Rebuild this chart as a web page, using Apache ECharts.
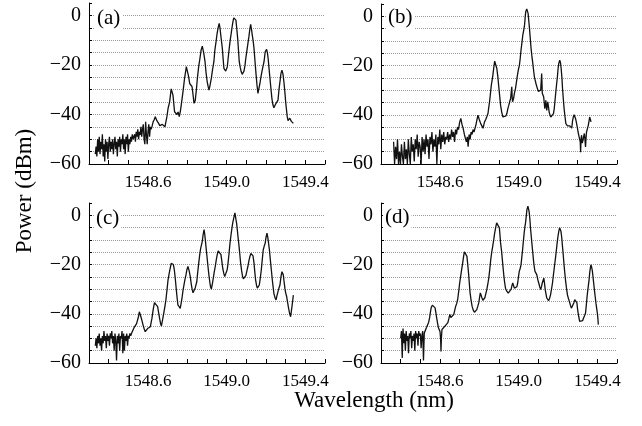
<!DOCTYPE html>
<html>
<head>
<meta charset="utf-8">
<script src="https://cdn.jsdelivr.net/npm/echarts@6/dist/echarts.min.js"></script>
<style>
html, body { margin: 0; padding: 0; background: #fff; }
#chart { width: 642px; height: 426px; }
</style>
</head>
<body>
<div id="chart"></div>
<script>
// panel tags and tick labels
const panelLabels = ['(a)', '(b)', '(c)', '(d)'];
const xTickLabels = ['1548.6', '1549.0', '1549.4'];
const yTickLabels = [-60, -40, -20, 0];

// spectra: [wavelength (nm), power (dBm)]
const spectrumA = [
  [1548.332,-56],[1548.336,-53],[1548.340,-57],[1548.344,-50],[1548.348,-55],[1548.352,-49],[1548.356,-56],[1548.360,-51],
  [1548.364,-54],[1548.368,-48],[1548.372,-57],[1548.376,-52],[1548.380,-59],[1548.384,-50],[1548.388,-55],[1548.392,-51],
  [1548.396,-58],[1548.400,-52],[1548.404,-49],[1548.408,-55],[1548.412,-51],[1548.416,-54],[1548.420,-50],[1548.424,-56],
  [1548.428,-52],[1548.432,-49],[1548.436,-54],[1548.440,-51],[1548.444,-57],[1548.448,-50],[1548.452,-53],[1548.456,-49],
  [1548.460,-55],[1548.464,-50],[1548.468,-52],[1548.472,-48],[1548.476,-54],[1548.480,-50],[1548.484,-56],[1548.488,-49],
  [1548.492,-52],[1548.496,-48],[1548.500,-55],[1548.504,-50],[1548.508,-52],[1548.512,-49],[1548.516,-51],[1548.520,-48],
  [1548.524,-50],[1548.528,-50.4],[1548.532,-48],[1548.536,-51],[1548.540,-47],[1548.544,-49],[1548.548,-46],[1548.552,-50],
  [1548.556,-47],[1548.560,-48.3],[1548.564,-45],[1548.568,-49],[1548.572,-46],[1548.576,-44],[1548.580,-50],[1548.584,-52],
  [1548.588,-43],[1548.592,-48],[1548.596,-52],[1548.600,-47],[1548.604,-44],[1548.608,-49],[1548.612,-45],[1548.616,-46],
  [1548.620,-45],[1548.626,-43],[1548.632,-42],[1548.637,-40.9],[1548.645,-42.5],[1548.654,-43.6],[1548.660,-44.5],
  [1548.666,-45],[1548.673,-44],[1548.680,-43.6],[1548.686,-45],[1548.690,-44.5],[1548.696,-41],[1548.702,-37.6],
  [1548.710,-34.9],[1548.718,-29.7],[1548.723,-30.5],[1548.727,-32.2],[1548.731,-35.5],[1548.735,-38.9],[1548.741,-39.5],
  [1548.747,-40],[1548.753,-39],[1548.759,-40.9],[1548.764,-39],[1548.769,-36.2],[1548.778,-30.8],[1548.786,-25.4],
  [1548.795,-20.7],[1548.800,-21.5],[1548.806,-24.5],[1548.812,-27.5],[1548.818,-27.8],[1548.824,-28.8],[1548.829,-32],
  [1548.834,-35.5],[1548.840,-34.5],[1548.846,-30],[1548.851,-25.4],[1548.858,-20.5],[1548.864,-17.4],[1548.870,-14],
  [1548.876,-12.4],[1548.883,-15],[1548.890,-18.7],[1548.895,-23],[1548.901,-26.8],[1548.906,-28.8],[1548.910,-30.2],
  [1548.916,-28],[1548.922,-25.4],[1548.928,-22],[1548.935,-18.7],[1548.940,-14],[1548.946,-10.6],[1548.951,-7.5],
  [1548.956,-5.2],[1548.962,-3.2],[1548.966,-5],[1548.970,-7.9],[1548.978,-13.3],[1548.982,-17.5],[1548.986,-21.4],
  [1548.990,-22.2],[1548.995,-22.5],[1548.999,-21.8],[1549.003,-20.8],[1549.008,-17],[1549.013,-13.3],[1549.018,-10],
  [1549.023,-7.3],[1549.028,-4.5],[1549.032,-2.5],[1549.036,-1],[1549.039,-0.3],[1549.043,-0.8],[1549.047,-1.9],
  [1549.051,-5],[1549.056,-9.3],[1549.060,-14],[1549.064,-18.7],[1549.069,-21],[1549.074,-22.8],[1549.079,-23.8],
  [1549.084,-24.4],[1549.088,-22.5],[1549.093,-20.3],[1549.097,-17.5],[1549.102,-14.7],[1549.113,-8.6],[1549.118,-5.5],
  [1549.122,-3.6],[1549.126,-5.5],[1549.130,-7.9],[1549.135,-10.5],[1549.139,-13.3],[1549.144,-18.5],[1549.149,-23.4],
  [1549.154,-28],[1549.159,-31.5],[1549.164,-29.5],[1549.169,-27.5],[1549.174,-25],[1549.179,-22.8],[1549.185,-20.5],
  [1549.190,-18.7],[1549.196,-14.7],[1549.203,-13.7],[1549.207,-15],[1549.211,-17.4],[1549.215,-21],[1549.220,-25.4],
  [1549.225,-29.5],[1549.230,-33.5],[1549.235,-36],[1549.240,-37.3],[1549.245,-36.5],[1549.251,-35.5],[1549.256,-34.8],
  [1549.261,-34.2],[1549.266,-30],[1549.271,-26.8],[1549.276,-23.5],[1549.281,-22.1],[1549.286,-23.5],[1549.291,-26.8],
  [1549.296,-31],[1549.300,-34.9],[1549.304,-38],[1549.308,-40.9],[1549.312,-42.5],[1549.317,-42.2],[1549.321,-41.5],
  [1549.325,-41.8],[1549.329,-42.8],[1549.334,-43.2],[1549.339,-43.6]
];

const spectrumB = [
  [1548.364,-51],[1548.369,-60],[1548.374,-53],[1548.379,-58],[1548.384,-50],[1548.389,-60],[1548.394,-55],[1548.399,-60],
  [1548.404,-52],[1548.409,-57],[1548.414,-60],[1548.419,-51],[1548.424,-58],[1548.429,-54],[1548.434,-60],[1548.439,-50],
  [1548.444,-56],[1548.449,-60],[1548.454,-49],[1548.459,-55],[1548.464,-52],[1548.469,-59],[1548.474,-50],[1548.479,-54],
  [1548.484,-48],[1548.489,-57],[1548.494,-51],[1548.499,-53],[1548.504,-60],[1548.509,-49],[1548.514,-55],[1548.519,-50],
  [1548.524,-56],[1548.529,-48],[1548.534,-53],[1548.539,-50],[1548.544,-58],[1548.549,-49],[1548.554,-52],[1548.559,-47],
  [1548.564,-55],[1548.569,-50],[1548.574,-53],[1548.579,-48],[1548.584,-60],[1548.589,-49],[1548.594,-52],[1548.599,-46],
  [1548.604,-54],[1548.609,-48],[1548.614,-51],[1548.619,-47],[1548.624,-52],[1548.629,-49],[1548.634,-50],[1548.639,-47],
  [1548.644,-51],[1548.649,-48],[1548.654,-50],[1548.659,-46],[1548.664,-49],[1548.669,-47],[1548.674,-51],[1548.679,-46],
  [1548.684,-48],[1548.689,-45],[1548.694,-46],[1548.700,-43],[1548.706,-41.5],[1548.712,-44],[1548.718,-45.6],
  [1548.724,-48],[1548.729,-47.6],[1548.734,-51],[1548.739,-49],[1548.743,-53],[1548.748,-48],[1548.753,-50],
  [1548.758,-47],[1548.763,-48],[1548.768,-46],[1548.773,-47],[1548.777,-46.3],[1548.783,-44],[1548.788,-42],
  [1548.793,-40.2],[1548.800,-42],[1548.807,-43.6],[1548.813,-44.5],[1548.819,-45.5],[1548.826,-43],[1548.832,-42],
  [1548.838,-40.8],[1548.844,-39.5],[1548.848,-37],[1548.852,-34.7],[1548.857,-31],[1548.861,-27.9],[1548.865,-26],
  [1548.869,-23.8],[1548.874,-20.5],[1548.878,-18.2],[1548.883,-17.4],[1548.886,-19],[1548.889,-21.2],[1548.894,-24.5],
  [1548.898,-27.9],[1548.903,-32],[1548.908,-36.1],[1548.914,-39],[1548.920,-40.9],[1548.925,-41],[1548.930,-40.9],
  [1548.935,-40.5],[1548.940,-39.5],[1548.945,-37.5],[1548.950,-36.1],[1548.955,-34.5],[1548.959,-33.4],[1548.962,-31],
  [1548.965,-28.6],[1548.967,-33],[1548.969,-34.7],[1548.974,-33.4],[1548.979,-31],[1548.984,-29.3],[1548.989,-26.5],
  [1548.994,-23.8],[1548.999,-21.5],[1549.004,-19.8],[1549.008,-17],[1549.012,-13.7],[1549.017,-10.5],[1549.021,-7.6],
  [1549.026,-5.5],[1549.030,-3.5],[1549.033,-0.5],[1549.036,1.9],[1549.041,3],[1549.045,2.5],[1549.048,1.2],
  [1549.051,-1.5],[1549.055,-4.9],[1549.059,-9],[1549.063,-13],[1549.067,-16],[1549.071,-18.5],[1549.076,-22],
  [1549.080,-24.6],[1549.084,-26],[1549.088,-27.3],[1549.092,-28.5],[1549.096,-29.3],[1549.100,-30.5],[1549.105,-31],
  [1549.109,-30.5],[1549.112,-30],[1549.115,-26],[1549.117,-23.2],[1549.119,-28],[1549.120,-31.3],[1549.124,-32],
  [1549.127,-32.7],[1549.130,-35],[1549.133,-37.5],[1549.136,-36],[1549.138,-34.1],[1549.141,-36.5],[1549.143,-38.2],
  [1549.146,-36],[1549.148,-34.7],[1549.152,-37],[1549.155,-38.9],[1549.159,-40],[1549.163,-40.9],[1549.168,-41.2],
  [1549.172,-40.9],[1549.177,-39.5],[1549.181,-37.5],[1549.185,-34],[1549.189,-30.7],[1549.193,-27.5],[1549.197,-24.6],
  [1549.200,-21.5],[1549.204,-19.1],[1549.209,-17.8],[1549.213,-19],[1549.216,-21.2],[1549.220,-25],[1549.223,-29.3],
  [1549.227,-33.5],[1549.231,-37.5],[1549.236,-41],[1549.240,-43.6],[1549.244,-44],[1549.248,-44.5],[1549.252,-44],
  [1549.256,-44.8],[1549.260,-44.5],[1549.265,-45],[1549.270,-45.4],[1549.274,-42.5],[1549.278,-40.9],[1549.282,-40],
  [1549.285,-40.3],[1549.289,-41.5],[1549.293,-42.9],[1549.298,-45],[1549.302,-47],[1549.306,-48.5],[1549.310,-49.1],
  [1549.313,-51],[1549.315,-55.2],[1549.317,-50],[1549.320,-48.3],[1549.323,-51.5],[1549.327,-50.4],[1549.330,-49],
  [1549.334,-47.6],[1549.337,-50],[1549.340,-53.1],[1549.343,-49],[1549.345,-47],[1549.350,-45.5],[1549.354,-44.3],
  [1549.358,-42.5],[1549.361,-40.9],[1549.365,-42],[1549.368,-42.9]
];

const spectrumC = [
  [1548.332,-53],[1548.336,-50],[1548.340,-54],[1548.344,-49],[1548.348,-52],[1548.352,-48],[1548.356,-53],[1548.360,-50],
  [1548.364,-55],[1548.368,-49],[1548.372,-52],[1548.376,-47],[1548.380,-51],[1548.384,-49],[1548.388,-54],[1548.392,-48],
  [1548.396,-51],[1548.400,-49],[1548.404,-53],[1548.408,-48],[1548.412,-50],[1548.416,-47],[1548.420,-52],[1548.424,-49],
  [1548.428,-55],[1548.432,-48],[1548.436,-51],[1548.440,-59],[1548.444,-49],[1548.448,-52],[1548.452,-48],[1548.456,-55],
  [1548.460,-49],[1548.464,-50],[1548.468,-47],[1548.472,-56],[1548.476,-48],[1548.480,-55],[1548.484,-49],[1548.488,-51],
  [1548.492,-48],[1548.496,-53],[1548.500,-49],[1548.504,-50],[1548.508,-48],[1548.512,-49],[1548.516,-48],[1548.520,-48],
  [1548.524,-47.5],[1548.530,-45.5],[1548.536,-45],[1548.542,-44],[1548.548,-43.3],[1548.552,-41],[1548.556,-39.2],
  [1548.560,-40],[1548.564,-41.2],[1548.570,-43],[1548.575,-44.6],[1548.580,-46],[1548.586,-47.3],[1548.592,-46.5],
  [1548.598,-46],[1548.605,-45.8],[1548.612,-45.3],[1548.616,-43.5],[1548.620,-41.9],[1548.625,-39],[1548.629,-37.1],
  [1548.633,-35.5],[1548.637,-35.1],[1548.643,-36],[1548.649,-37.1],[1548.654,-39.5],[1548.659,-41.9],[1548.664,-44],
  [1548.668,-45],[1548.674,-42.5],[1548.680,-39.8],[1548.686,-37],[1548.691,-34.4],[1548.697,-30],[1548.702,-26.2],
  [1548.708,-23.5],[1548.713,-21.5],[1548.718,-19.5],[1548.724,-18.8],[1548.729,-20],[1548.734,-22.2],[1548.739,-26],
  [1548.744,-30.3],[1548.748,-33.5],[1548.752,-36.4],[1548.758,-37],[1548.764,-37.8],[1548.769,-35.5],[1548.774,-33],
  [1548.778,-30.5],[1548.783,-28.3],[1548.788,-26],[1548.793,-24.2],[1548.798,-22],[1548.803,-20.8],[1548.809,-22.5],
  [1548.815,-24.9],[1548.820,-28],[1548.825,-30.3],[1548.829,-31.5],[1548.834,-31],[1548.840,-29.5],[1548.848,-27],
  [1548.853,-23],[1548.858,-19.4],[1548.863,-16],[1548.868,-13.3],[1548.872,-12],[1548.876,-10.6],[1548.880,-8],
  [1548.885,-5.8],[1548.889,-8],[1548.893,-11.3],[1548.899,-16],[1548.905,-20.8],[1548.910,-24.5],[1548.915,-27.6],
  [1548.918,-29],[1548.922,-30],[1548.927,-28],[1548.932,-25.5],[1548.937,-23],[1548.942,-20.8],[1548.947,-18.2],
  [1548.952,-16],[1548.957,-14.5],[1548.962,-13.9],[1548.967,-14.5],[1548.971,-16],[1548.976,-19],[1548.980,-21.5],
  [1548.985,-23.5],[1548.990,-24.9],[1548.994,-25],[1548.998,-24.6],[1549.003,-22],[1549.007,-19.4],[1549.012,-15.5],
  [1549.017,-11.3],[1549.022,-8],[1549.027,-5.1],[1549.031,-3],[1549.036,-1.1],[1549.039,0],[1549.042,1],
  [1549.045,-0.5],[1549.047,-1.6],[1549.051,-3.5],[1549.054,-5.8],[1549.058,-9],[1549.063,-12.6],[1549.067,-16],
  [1549.071,-19.4],[1549.076,-22.5],[1549.081,-24.9],[1549.085,-25.8],[1549.088,-26.2],[1549.093,-25.5],[1549.098,-24.4],
  [1549.103,-22.5],[1549.108,-20.8],[1549.113,-18.5],[1549.118,-16.8],[1549.123,-15.5],[1549.129,-15],[1549.134,-16.5],
  [1549.139,-19.4],[1549.143,-23],[1549.147,-26.2],[1549.152,-28.5],[1549.156,-29.6],[1549.161,-29.2],[1549.166,-28.3],
  [1549.171,-25.5],[1549.176,-22.2],[1549.181,-18],[1549.186,-14],[1549.191,-12.5],[1549.196,-11.3],[1549.200,-9],
  [1549.205,-7.2],[1549.209,-9],[1549.213,-11.3],[1549.218,-14.5],[1549.222,-18.1],[1549.227,-22],[1549.232,-26.2],
  [1549.236,-29],[1549.240,-31.7],[1549.246,-33.5],[1549.251,-34.4],[1549.256,-32.5],[1549.261,-31],[1549.266,-29.5],
  [1549.271,-28.3],[1549.276,-25],[1549.281,-22.9],[1549.285,-23.5],[1549.288,-24.2],[1549.292,-27],[1549.296,-29.6],
  [1549.300,-31.5],[1549.305,-33],[1549.310,-35.5],[1549.315,-37.8],[1549.320,-39.8],[1549.325,-41.2],[1549.328,-39.5],
  [1549.332,-37.1],[1549.336,-34.5],[1549.339,-32.4]
];

const spectrumD = [
  [1548.400,-50],[1548.404,-47],[1548.408,-58],[1548.412,-46],[1548.416,-52],[1548.420,-48],[1548.424,-55],[1548.428,-47],
  [1548.432,-51],[1548.436,-49],[1548.440,-56],[1548.444,-48],[1548.448,-50],[1548.452,-47],[1548.456,-54],[1548.460,-49],
  [1548.464,-51],[1548.468,-48],[1548.472,-55],[1548.476,-47],[1548.480,-50],[1548.484,-48],[1548.488,-53],[1548.492,-47],
  [1548.496,-49],[1548.500,-48],[1548.504,-54],[1548.508,-49],[1548.512,-47],[1548.516,-59],[1548.520,-48],[1548.524,-47],
  [1548.528,-46.5],[1548.532,-45.5],[1548.537,-45.1],[1548.542,-43.5],[1548.547,-41.7],[1548.551,-39.5],[1548.555,-37.6],
  [1548.561,-36.5],[1548.567,-35.9],[1548.571,-36.5],[1548.575,-37.6],[1548.579,-39.5],[1548.583,-41.7],[1548.588,-44],
  [1548.592,-45.7],[1548.597,-46.5],[1548.600,-47.2],[1548.603,-50],[1548.605,-55.3],[1548.607,-50],[1548.610,-46.4],
  [1548.615,-46.5],[1548.620,-45.7],[1548.625,-45],[1548.630,-44.3],[1548.635,-44.8],[1548.640,-43.6],[1548.645,-42],
  [1548.650,-40.3],[1548.655,-41.5],[1548.660,-41.7],[1548.665,-41],[1548.670,-40.3],[1548.675,-38.5],[1548.680,-36.9],
  [1548.685,-35.8],[1548.690,-34.1],[1548.695,-31],[1548.700,-27.5],[1548.705,-24.8],[1548.710,-22.1],[1548.715,-19.5],
  [1548.720,-16.7],[1548.724,-14.8],[1548.728,-14],[1548.732,-15],[1548.737,-16.7],[1548.741,-20],[1548.745,-23.4],
  [1548.749,-27.5],[1548.753,-31.5],[1548.758,-34.5],[1548.763,-36.9],[1548.769,-38.5],[1548.775,-39.4],[1548.781,-39],
  [1548.787,-38.3],[1548.792,-37],[1548.797,-35.6],[1548.801,-33.5],[1548.805,-31.5],[1548.809,-32.5],[1548.813,-33.5],
  [1548.818,-34.5],[1548.822,-34.9],[1548.828,-33.5],[1548.833,-32.9],[1548.838,-30.2],[1548.843,-28],[1548.848,-25.5],
  [1548.853,-22],[1548.858,-18],[1548.863,-15],[1548.868,-12.6],[1548.873,-10],[1548.878,-7.2],[1548.883,-5],
  [1548.888,-3.1],[1548.895,-2.8],[1548.898,-3.8],[1548.902,-5.1],[1548.905,-8],[1548.908,-11.2],[1548.913,-14.5],
  [1548.917,-18],[1548.921,-21.5],[1548.925,-24.8],[1548.929,-27.5],[1548.933,-29.6],[1548.938,-30.6],[1548.942,-31.3],
  [1548.947,-31.6],[1548.952,-31.9],[1548.957,-31],[1548.962,-30],[1548.966,-28.5],[1548.970,-27.5],[1548.974,-28.5],
  [1548.978,-29.6],[1548.983,-30.2],[1548.987,-30],[1548.991,-29],[1548.995,-27.5],[1548.999,-25],[1549.003,-22.8],
  [1549.008,-21.5],[1549.012,-20.1],[1549.016,-17],[1549.020,-14],[1549.024,-10.5],[1549.028,-7.2],[1549.032,-4.5],
  [1549.035,-3.1],[1549.039,0],[1549.042,2.3],[1549.047,3.7],[1549.050,3],[1549.053,1.6],[1549.057,-1.5],
  [1549.060,-5.1],[1549.064,-8.5],[1549.067,-11.2],[1549.071,-14.5],[1549.075,-18],[1549.079,-20.8],[1549.083,-22.8],
  [1549.088,-23.5],[1549.092,-24.1],[1549.097,-26],[1549.102,-27.5],[1549.107,-29],[1549.112,-30.2],[1549.116,-29],
  [1549.120,-27.5],[1549.124,-26.5],[1549.128,-25.5],[1549.132,-28],[1549.135,-30.2],[1549.139,-32],[1549.143,-33.6],
  [1549.148,-34.3],[1549.152,-34.7],[1549.157,-33.8],[1549.162,-32.3],[1549.167,-30],[1549.172,-27.5],[1549.177,-24],
  [1549.182,-20.7],[1549.187,-17.5],[1549.192,-14],[1549.196,-11],[1549.200,-8.5],[1549.204,-6.5],[1549.208,-5.1],
  [1549.212,-5.5],[1549.215,-6.5],[1549.219,-9],[1549.222,-11.9],[1549.226,-15.5],[1549.230,-19.4],[1549.234,-23],
  [1549.238,-26.2],[1549.243,-29.5],[1549.248,-32.3],[1549.253,-33.8],[1549.258,-35],[1549.263,-36.5],[1549.268,-37.7],
  [1549.272,-38.4],[1549.277,-37.5],[1549.281,-35.5],[1549.285,-34.3],[1549.289,-34],[1549.292,-33.6],[1549.296,-35.5],
  [1549.300,-38.4],[1549.305,-41],[1549.310,-43.1],[1549.315,-43.6],[1549.320,-43.5],[1549.325,-42.8],[1549.330,-41.7],
  [1549.335,-40.8],[1549.340,-39.7],[1549.344,-36.5],[1549.348,-32.9],[1549.353,-29.5],[1549.358,-26.2],[1549.362,-22.8],
  [1549.367,-20.1],[1549.371,-21],[1549.375,-22.8],[1549.380,-26.5],[1549.385,-30.2],[1549.389,-33],[1549.393,-35.7],
  [1549.397,-38],[1549.400,-39.7],[1549.403,-42],[1549.405,-44.4]
];

const spectra = [spectrumA, spectrumB, spectrumC, spectrumD];

var serifFont = '"Liberation Serif", "DejaVu Serif", serif';

var gridBoxes = [
    { left: 89, top: 3, width: 236, height: 161 },
    { left: 381, top: 4, width: 236, height: 160 },
    { left: 89, top: 203, width: 236, height: 160 },
    { left: 381, top: 203, width: 236, height: 160 }
];
var tagPos = [
    { left: 95, top: 7 },
    { left: 386, top: 6 },
    { left: 94, top: 207 },
    { left: 383, top: 206 }
];

var option = {
    backgroundColor: '#fff',
    animation: false,
    grid: gridBoxes,
    title: panelLabels.map(function (t, i) {
        return {
            text: t,
            left: tagPos[i].left,
            top: tagPos[i].top,
            padding: [1, 2],
            backgroundColor: '#fff',
            textStyle: { fontFamily: serifFont, fontSize: 21, fontWeight: 'normal', color: '#000' }
        };
    }),
    xAxis: gridBoxes.map(function (g, i) {
        return {
            type: 'value',
            gridIndex: i,
            min: 1548.3,
            max: 1549.5,
            interval: 0.1,
            axisLine: { show: true, onZero: false, lineStyle: { color: '#000', width: 1 } },
            axisTick: { show: true, inside: true, length: 4, lineStyle: { color: '#000' } },
            splitLine: { show: false },
            axisLabel: {
                margin: 10,
                color: '#000',
                fontFamily: serifFont,
                fontSize: 17,
                formatter: function (v) {
                    var s = v.toFixed(1);
                    return xTickLabels.indexOf(s) >= 0 ? s : '';
                }
            }
        };
    }),
    yAxis: gridBoxes.map(function (g, i) {
        return {
            type: 'value',
            gridIndex: i,
            min: -60,
            max: 5,
            interval: 5,
            axisLine: { show: true, lineStyle: { color: '#000', width: 1 } },
            axisTick: { show: true, inside: true, length: 3, lineStyle: { color: '#000' } },
            splitLine: {
                show: true,
                showMinLine: false,
                showMaxLine: false,
                lineStyle: { color: '#9a9a9a', type: 'dotted', width: 1 }
            },
            axisLabel: {
                margin: 8,
                color: '#000',
                fontFamily: serifFont,
                fontSize: 20,
                formatter: function (v) {
                    return yTickLabels.indexOf(Math.round(v)) >= 0 ? String(Math.round(v)).replace('-', '\u2212') : '';
                }
            }
        };
    }),
    series: spectra.map(function (d, i) {
        return {
            type: 'line',
            xAxisIndex: i,
            yAxisIndex: i,
            data: d,
            showSymbol: false,
            clip: true,
            lineStyle: { color: '#111', width: 1.3 }
        };
    }),
    graphic: [
        {
            type: 'text',
            x: 25, y: 191,
            rotation: Math.PI / 2,
            style: {
                text: 'Power (dBm)',
                font: '23px ' + serifFont,
                fill: '#000',
                align: 'center',
                verticalAlign: 'middle'
            }
        },
        {
            type: 'text',
            x: 374, y: 401,
            style: {
                text: 'Wavelength (nm)',
                font: '23px ' + serifFont,
                fill: '#000',
                align: 'center',
                verticalAlign: 'middle'
            }
        }
    ]
};

var chart = echarts.init(document.getElementById('chart'));
chart.setOption(option);
</script>
</body>
</html>
